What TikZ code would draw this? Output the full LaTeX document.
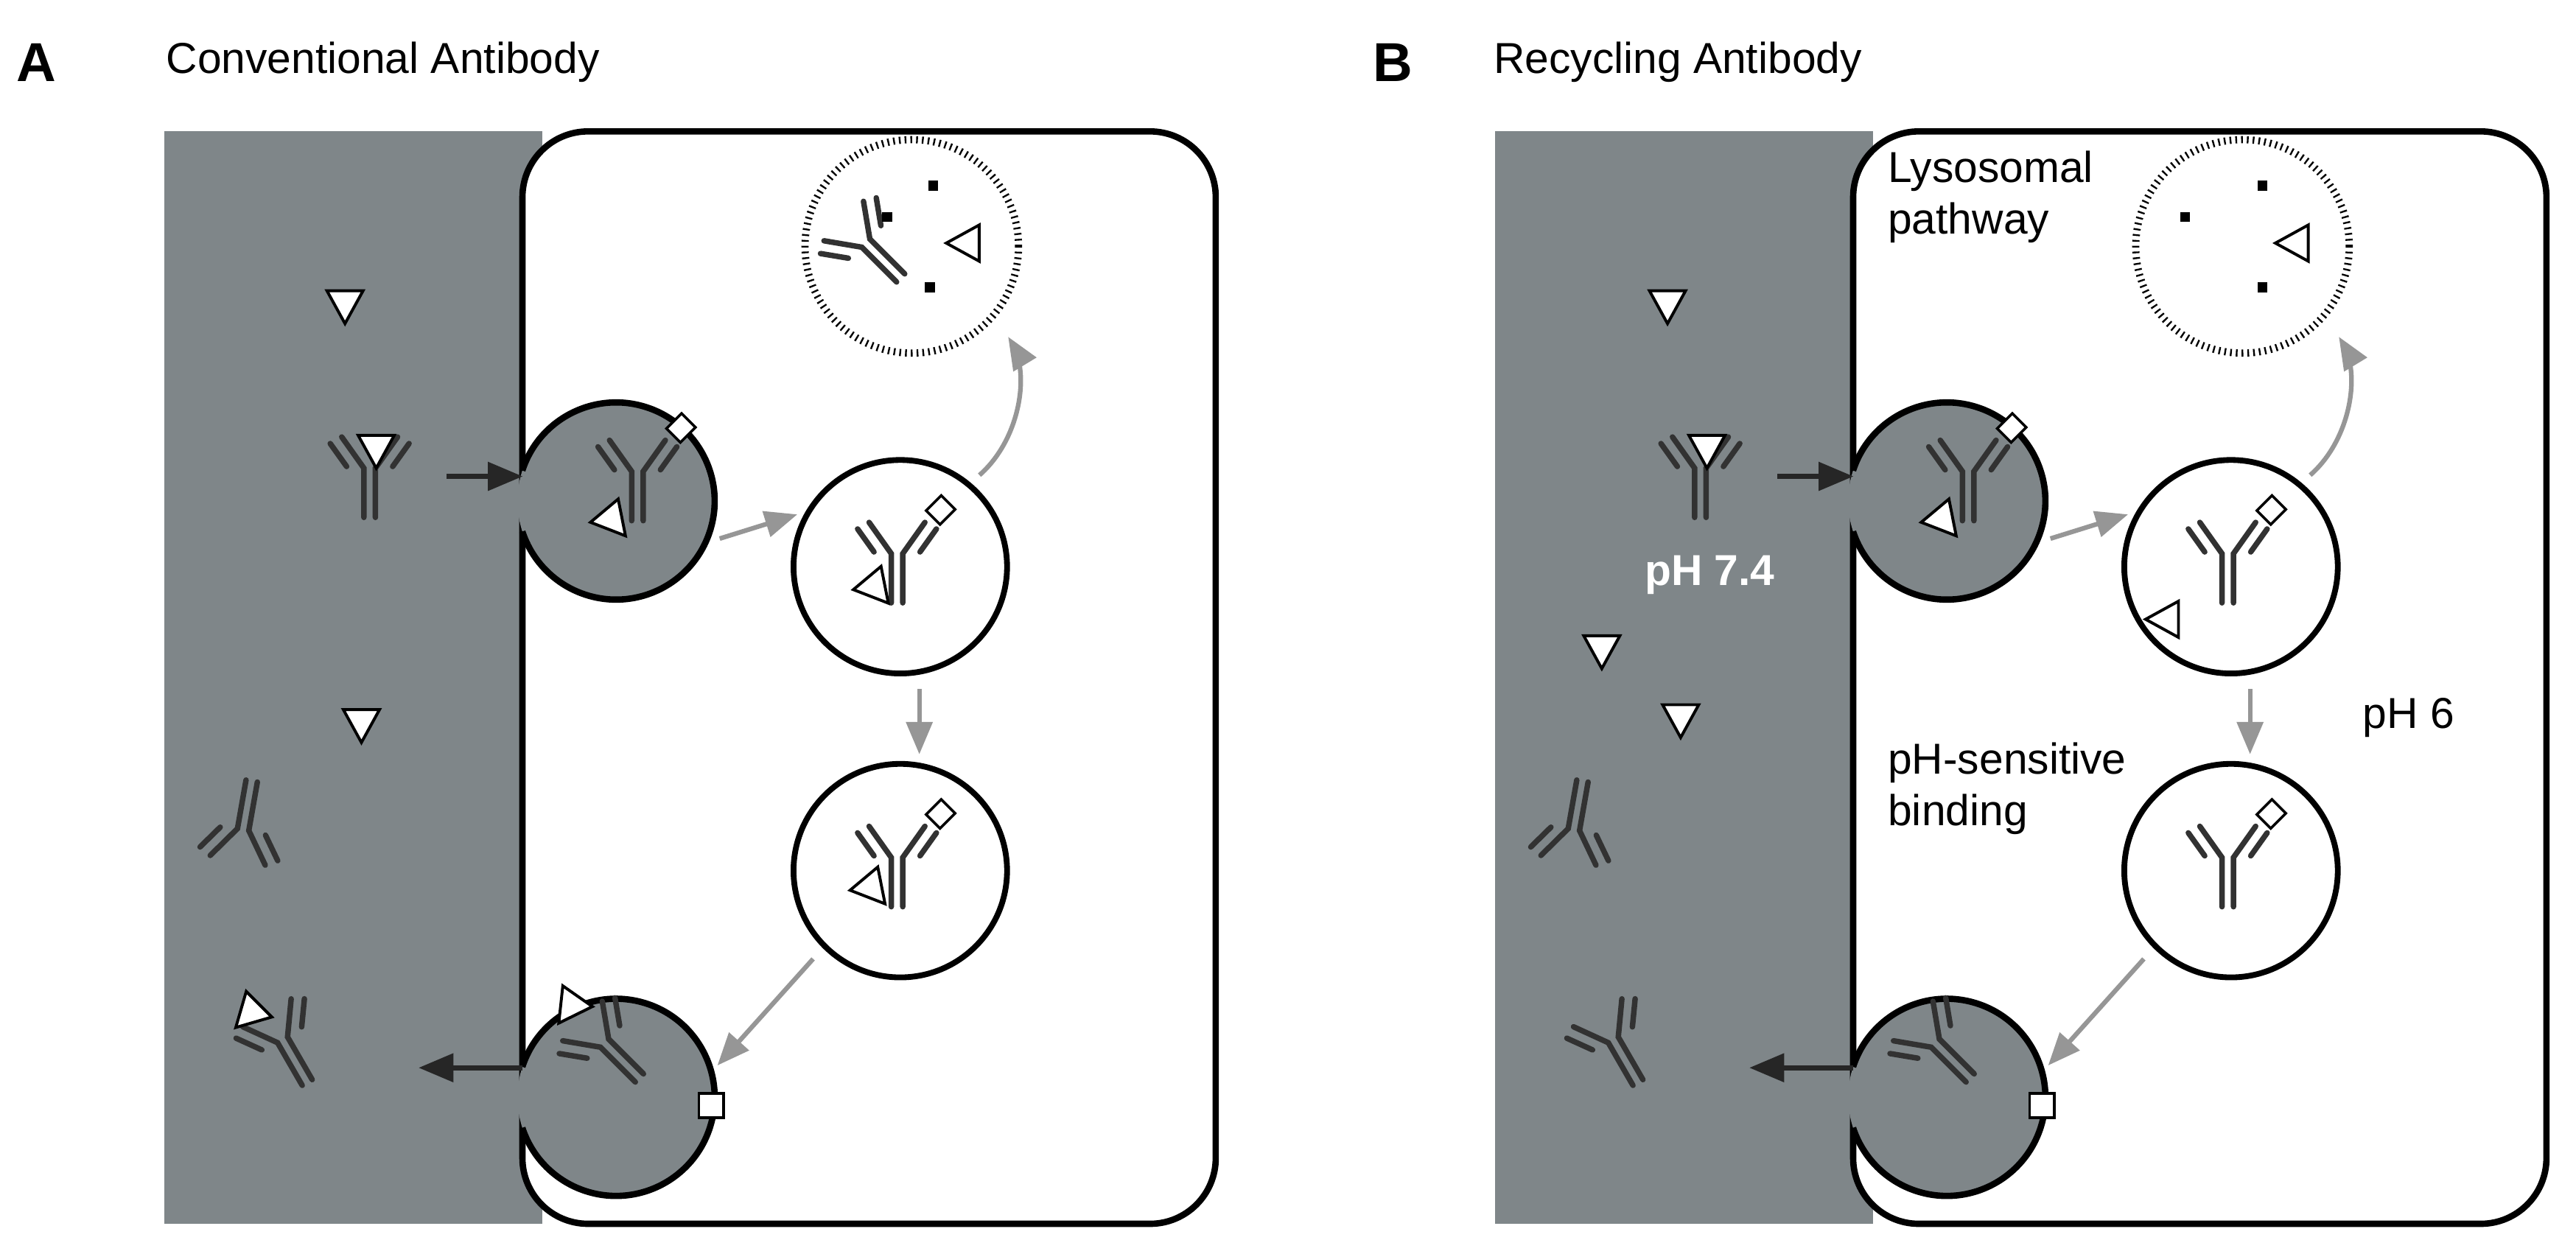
\documentclass[tikz,border=0pt]{standalone}
\usepackage{fontspec}
\setmainfont{Liberation Sans}
\usepackage{tikz}
\usetikzlibrary{arrows}
\definecolor{serum}{RGB}{127,134,137}
\definecolor{chain}{RGB}{50,50,50}
\definecolor{route}{RGB}{150,150,150}
\tikzset{
ab/.pic={
\draw [chain, line width=1.9pt, line cap=round] (-3.5,-30) -- (-3.5,0) -- (-17,19);
\draw [chain, line width=1.9pt, line cap=round] (3.5,-30) -- (3.5,0) -- (17,19);
\draw [chain, line width=1.9pt, line cap=round] (-14,1) -- (-24,15);
\draw [chain, line width=1.9pt, line cap=round] (14,1) -- (24,15);
},
abfc/.pic={
\pic {ab};
\draw [black, fill=white, line width=0.9pt] (-6,-31) rectangle (6,-44);
},
ag/.pic={
\draw [black, fill=white, line width=1pt] (0,-12) -- (-11,8) -- (11,8) -- cycle;
},
fcrn/.style={draw=black, fill=white, line width=0.9pt, minimum width=0.3cm, minimum height=0.3cm, inner sep=0pt},
vesicle/.style={circle, fill=serum, minimum size=2.4cm, inner sep=0pt},
endosome/.style={circle, draw=black, fill=white, line width=2pt, minimum size=2.6cm, inner sep=0pt},
lysosome/.style={circle, draw=black, fill=white, line width=2.5pt, dash pattern=on 0.6pt off 1.4pt, minimum size=2.6cm, inner sep=0pt},
dot/.style={fill=black, minimum size=0.12cm, inner sep=0pt},
inarrow/.style={line width=1.8pt, ->, >=triangle 45, black!85},
routearrow/.style={line width=1.6pt, ->, >=triangle 45, route},
caption/.style={font=\fontsize{15}{18}\selectfont, align=left, anchor=west}
}
\begin{document}
\begin{tikzpicture}[x=0.02cm, y=0.02cm]
\useasboundingbox (0,0) rectangle (1568,763);

% shared frame of both panels
\foreach \p/\dx in {A/0, B/810} {
\begin{scope}[xshift=\dx*0.02cm]
\fill [serum] (100,18) rectangle (330,683);
\draw [line width=2.2pt, fill=white, rounded corners=0.8cm] (318,18) rectangle (740,683);
\node (top\p) [vesicle] at (375,458) {};
\draw [line width=2.2pt] (375,458) ++(162:60) arc (162:-162:60);
\node (bot\p) [vesicle] at (375,95) {};
\draw [line width=2.2pt] (375,95) ++(162:60) arc (162:-162:60);
\node (ea\p) [endosome] at (548,418) {};
\node (eb\p) [endosome] at (548,233) {};
\node (lys\p) [lysosome] at (555,613) {};
\coordinate (in\p) at (272,473);
\coordinate (inend\p) at (318,473);
\coordinate (out\p) at (255,113);
\coordinate (outst\p) at (318,113);
\draw [inarrow] (in\p) -- (inend\p);
\draw [inarrow] (outst\p) -- (out\p);
\draw [routearrow, shorten <=5pt, shorten >=3pt] (top\p.-25) -- (ea\p.150);
\draw [routearrow, shorten <=5pt, shorten >=3pt] (ea\p.-80) -- (eb\p.80);
\draw [routearrow, shorten <=5pt, shorten >=3pt] (eb\p.-135) -- (bot\p.15);
\draw [routearrow, shorten <=4pt, shorten >=8pt] (ea\p.50) to[bend right=40] (lys\p.-40);
\end{scope}
}

% panel titles
\node (letA) [font=\fontsize{19}{22}\selectfont\bfseries] at (22,725) {A};
\node (titA) [caption] at (95,725) {Conventional Antibody};
\node (letB) [font=\fontsize{19}{22}\selectfont\bfseries] at (848,725) {B};
\node (titB) [caption] at (903,725) {Recycling Antibody};

% panel A contents
\pic at (210,578) {ag};
\pic at (220,323) {ag};
\pic at (225,478) {ab};
\pic at (229,490) {ag};
\pic [rotate=135] at (388,476) {abfc};
\pic [rotate=40] at (373,446) {ag};
\pic [rotate=135] at (546,426) {abfc};
\pic [rotate=40] at (533,405) {ag};
\pic [rotate=135] at (546,241) {abfc};
\pic [rotate=40] at (531,222) {ag};
\pic [rotate=45] at (368,128) {ab};
\pic [rotate=-35] at (347,150) {ag};
\node (rcA) [fcrn] at (433,90) {};
\pic [rotate=30] at (172,130) {ab};
\pic [rotate=-45] at (152,146) {ag};
\pic [rotate=170] at (148,258) {ab};
\pic [rotate=45] at (527,615) {ab};
\pic [rotate=-90] at (588,615) {ag};
\node [dot] at (540,631) {};
\node [dot] at (568,650) {};
\node [dot] at (566,588) {};

% panel B contents
\pic at (1015,578) {ag};
\pic at (975,368) {ag};
\pic at (1023,326) {ag};
\pic at (1035,478) {ab};
\pic at (1039,490) {ag};
\pic [rotate=135] at (1198,476) {abfc};
\pic [rotate=40] at (1183,446) {ag};
\pic [rotate=135] at (1356,426) {abfc};
\pic [rotate=-90] at (1318,386) {ag};
\pic [rotate=135] at (1356,241) {abfc};
\pic [rotate=45] at (1178,128) {ab};
\node (rcB) [fcrn] at (1243,90) {};
\pic [rotate=30] at (982,130) {ab};
\pic [rotate=170] at (958,258) {ab};
\pic [rotate=-90] at (1397,615) {ag};
\node [dot] at (1330,631) {};
\node [dot] at (1377,650) {};
\node [dot] at (1377,588) {};
\node (lyslab) [caption] at (1143,643) {Lysosomal\\pathway};
\node (ph74) [caption, text=white, font=\fontsize{15}{18}\selectfont\bfseries] at (995,413) {pH 7.4};
\node (ph6) [caption] at (1432,326) {pH 6};
\node (sens) [caption] at (1143,283) {pH-sensitive\\binding};
\end{tikzpicture}
\end{document}
